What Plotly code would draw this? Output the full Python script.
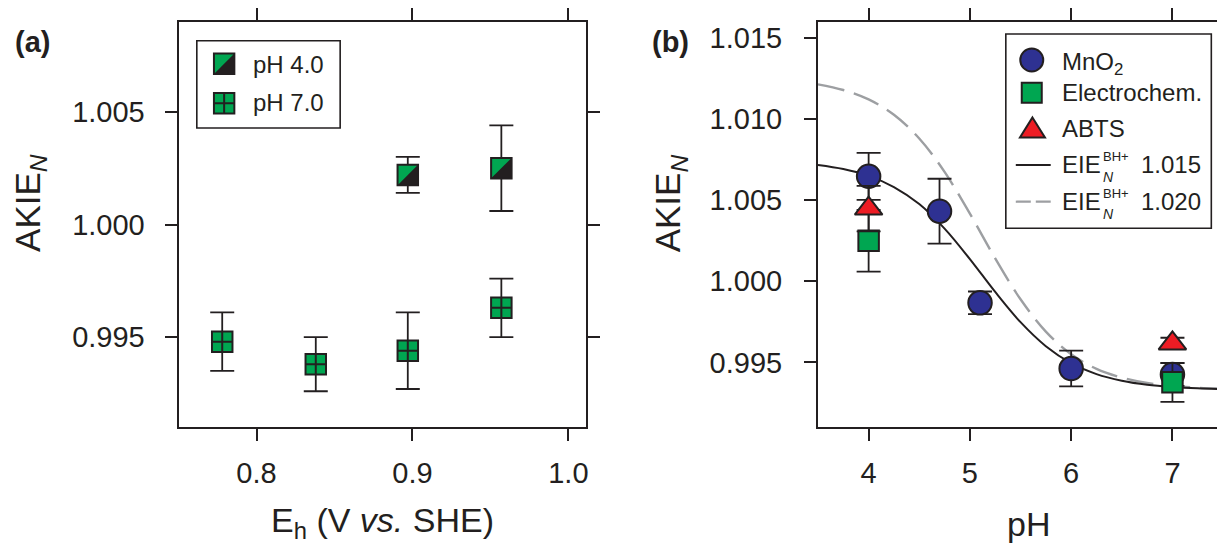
import plotly.graph_objects as go

# ---------------- data: panel (a) ----------------
eh_ph4 = [0.897, 0.957]
akie_ph4 = [1.0022, 1.0025]
err_ph4 = [0.0008, 0.0019]

eh_ph7 = [0.778, 0.838, 0.897, 0.957]
akie_ph7 = [0.9948, 0.9938, 0.9944, 0.9963]
err_ph7 = [0.0013, 0.0012, 0.0017, 0.0013]

# ---------------- data: panel (b) ----------------
ph_mno2 = [4.0, 4.7, 5.1, 6.0, 7.0]
akie_mno2 = [1.00647, 1.00432, 0.99867, 0.99462, 0.99425]
err_mno2 = [0.00145, 0.0020, 0.0007, 0.0011, 0.0007]

ph_elec = [4.0, 7.0]
akie_elec = [1.0025, 0.99377]
err_elec = [0.0019, 0.0012]

ph_abts = [4.0, 7.0]
akie_abts = [1.00448, 0.99617]
err_abts = [0.0014, 0.00035]

ph_curve = [3.5, 3.75, 4.0, 4.25, 4.5, 4.75, 5.0, 5.25, 5.5, 5.75,
            6.0, 6.25, 6.5, 6.75, 7.0, 7.25, 7.5]
eie_1015 = [1.00717, 1.00692, 1.00650, 1.00581, 1.00476, 1.00325, 1.00137,
            0.99934, 0.99748, 0.99600, 0.99495, 0.99428, 0.99387, 0.99362,
            0.99348, 0.99340, 0.99336]
eie_1020 = [1.01214, 1.01179, 1.01121, 1.01026, 1.00880, 1.00674, 1.00417,
            1.00141, 0.99889, 0.99690, 0.99550, 0.99460, 0.99406, 0.99373,
            0.99355, 0.99344, 0.99338]

xa_ticks = [0.8, 0.9, 1.0]
ya_ticks = [0.995, 1.000, 1.005]
xb_ticks = [4, 5, 6, 7]
yb_ticks = [0.995, 1.000, 1.005, 1.010, 1.015]

# ---------------- style ----------------
W, H = 1220, 545
INK = "#231f20"
GREEN = "#00a651"
NAVY = "#2e3192"
RED = "#ed1c24"
GRAY = "#9d9fa2"
FONT = "Liberation Sans, Arial, Helvetica, sans-serif"


def px(x):
    return x / W


def py(y):
    return 1 - y / H


err_style = dict(type="data", color=INK, thickness=1.8, width=12, visible=True)

fig = go.Figure()

# ---- panel (a) ----
fig.add_trace(go.Scatter(
    x=eh_ph7, y=akie_ph7, mode="markers", xaxis="x", yaxis="y",
    marker=dict(symbol="square-cross", size=20.5, color=GREEN,
                line=dict(color=INK, width=2)),
    error_y=dict(array=err_ph7, **err_style), showlegend=False))
fig.add_trace(go.Scatter(
    x=eh_ph4, y=akie_ph4, mode="markers", xaxis="x", yaxis="y",
    marker=dict(symbol="square", size=20.5, color=INK,
                line=dict(color=INK, width=2)),
    error_y=dict(array=err_ph4, **err_style), showlegend=False))

# ---- panel (b) ----
fig.add_trace(go.Scatter(
    x=ph_curve, y=eie_1020, mode="lines", xaxis="x2", yaxis="y2",
    line=dict(color=GRAY, width=2.4, dash="27px,10px", shape="spline"),
    showlegend=False))
fig.add_trace(go.Scatter(
    x=ph_curve, y=eie_1015, mode="lines", xaxis="x2", yaxis="y2",
    line=dict(color=INK, width=2, shape="spline"), showlegend=False))
fig.add_trace(go.Scatter(
    x=ph_mno2, y=akie_mno2, mode="markers", xaxis="x2", yaxis="y2",
    marker=dict(symbol="circle", size=23.5, color=NAVY,
                line=dict(color=INK, width=2)),
    error_y=dict(array=err_mno2, **err_style), showlegend=False))
fig.add_trace(go.Scatter(
    x=ph_elec, y=akie_elec, mode="markers", xaxis="x2", yaxis="y2",
    marker=dict(symbol="square", size=20.5, color=GREEN,
                line=dict(color=INK, width=2)),
    error_y=dict(array=err_elec, **err_style), showlegend=False))
fig.add_trace(go.Scatter(
    x=ph_abts, y=akie_abts, mode="markers", xaxis="x2", yaxis="y2",
    marker=dict(symbol="triangle-up", size=24, color=RED,
                line=dict(color=INK, width=2)),
    error_y=dict(array=err_abts, **err_style), showlegend=False))

shapes = []
# green upper-left halves of the pH 4.0 squares
for xv, yv in zip(eh_ph4, akie_ph4):
    shapes.append(dict(type="path", xref="x", yref="y",
                       xsizemode="pixel", ysizemode="pixel",
                       xanchor=xv, yanchor=yv,
                       path="M -9.2,9.2 L 9.2,9.2 L -9.2,-9.2 Z",
                       fillcolor=GREEN, line=dict(width=0), layer="above"))

# ---- custom legend (a) ----
shapes.append(dict(type="rect", xref="paper", yref="paper",
                   x0=px(197.3), x1=px(341), y0=py(128), y1=py(40.7),
                   line=dict(color=INK, width=1.6), fillcolor="white",
                   layer="above"))


def pix_rect(cx, cy, h, fill, lw=2):
    return dict(type="rect", xref="paper", yref="paper",
                xsizemode="pixel", ysizemode="pixel",
                xanchor=px(cx), yanchor=py(cy), x0=-h, x1=h, y0=-h, y1=h,
                fillcolor=fill, line=dict(color=INK, width=lw), layer="above")


def pix_path(cx, cy, path, fill, lw=0, color=INK):
    return dict(type="path", xref="paper", yref="paper",
                xsizemode="pixel", ysizemode="pixel",
                xanchor=px(cx), yanchor=py(cy), path=path,
                fillcolor=fill, line=dict(color=color, width=lw),
                layer="above")


shapes.append(pix_rect(224.7, 63.7, 10.2, INK))
shapes.append(pix_path(224.7, 63.7, "M -9.2,9.2 L 9.2,9.2 L -9.2,-9.2 Z", GREEN))
shapes.append(pix_rect(224.7, 103.3, 10.2, GREEN))
shapes.append(pix_path(224.7, 103.3, "M -10.2,0 L 10.2,0 M 0,-10.2 L 0,10.2",
                       "rgba(0,0,0,0)", lw=2))

# ---- custom legend (b) ----
shapes.append(dict(type="rect", xref="paper", yref="paper",
                   x0=px(1008.3), x1=px(1214.3), y0=py(228.3), y1=py(34),
                   line=dict(color=INK, width=1.6), fillcolor="white",
                   layer="above"))
shapes.append(dict(type="circle", xref="paper", yref="paper",
                   xsizemode="pixel", ysizemode="pixel",
                   xanchor=px(1034.3), yanchor=py(60),
                   x0=-11.5, x1=11.5, y0=-11.5, y1=11.5,
                   fillcolor=NAVY, line=dict(color=INK, width=2), layer="above"))
shapes.append(pix_rect(1034.3, 92.7, 10.0, GREEN))
shapes.append(pix_path(1035, 128, "M 0,10.5 L 12.5,-9.5 L -12.5,-9.5 Z", RED, lw=2))
shapes.append(dict(type="line", xref="paper", yref="paper",
                   x0=px(1018.3), x1=px(1053.3), y0=py(165), y1=py(165),
                   line=dict(color=INK, width=2), layer="above"))
shapes.append(dict(type="line", xref="paper", yref="paper",
                   x0=px(1018.3), x1=px(1053.3), y0=py(201.7), y1=py(201.7),
                   line=dict(color=GRAY, width=2.2, dash="15px,5px"),
                   layer="above"))

annotations = []


def note(text, x, y, size=24, xanchor="left", yanchor="middle", angle=0,
         bold=False):
    annotations.append(dict(
        text=text, x=px(x), y=py(y), xref="paper", yref="paper",
        xanchor=xanchor, yanchor=yanchor, showarrow=False, textangle=angle,
        font=dict(family=FONT, size=size, color=INK,
                  weight="bold" if bold else "normal")))


# legend (a) texts
note("pH 4.0", 252, 64)
note("pH 7.0", 252, 102.5)
# legend (b) texts
note("MnO<sub>2</sub>", 1063, 63)
note("Electrochem.", 1063, 93)
note("ABTS", 1063, 128.5)
for yrow, val in [(165, "1.015"), (201.7, "1.020")]:
    note("EIE", 1063, yrow)
    note("BH+", 1104, yrow - 8.5, size=13)
    note("<i>N</i>", 1103.5, yrow + 12, size=14)
    note(val, 1142, yrow)

# panel labels
note("(a)", 33, 42, size=29, xanchor="center", bold=True)
note("(b)", 672.5, 42, size=29, xanchor="center", bold=True)

# axis titles
note("AKIE<sub><i>N</i></sub>", 30, 203, size=35, xanchor="center", angle=-90)
note("AKIE<sub><i>N</i></sub>", 672, 203, size=35, xanchor="center", angle=-90)
note("E<sub>h</sub> (V <i>vs.</i> SHE)", 383, 522, size=34, xanchor="center")
note("pH", 1031.5, 524, size=34, xanchor="center")

y_dom = [1 - 427.3 / H, 1 - 21.7 / H]
axis_common = dict(showgrid=False, zeroline=False, showline=True,
                   linecolor=INK, linewidth=2, ticks="outside", ticklen=12,
                   tickwidth=2, tickcolor=INK,
                   tickfont=dict(family=FONT, size=29, color=INK))

fig.update_layout(
    width=W, height=H, autosize=False,
    margin=dict(l=0, r=0, t=0, b=0),
    paper_bgcolor="white", plot_bgcolor="white",
    showlegend=False,
    font=dict(family=FONT, color=INK),
    xaxis=dict(domain=[179 / W, 587 / W], range=[0.75, 1.011],
               tickvals=xa_ticks, tickformat=".1f", anchor="y",
               mirror="ticks", ticklabelstandoff=7, **axis_common),
    yaxis=dict(domain=y_dom, range=[0.991, 1.009], tickvals=ya_ticks,
               tickformat=".3f", anchor="x", mirror="ticks",
               ticklabelstandoff=14, **axis_common),
    xaxis2=dict(domain=[820 / W, 1.0], range=[3.5, 7.44],
                tickvals=xb_ticks, tickformat="d", anchor="y2",
                mirror="ticks", ticklabelstandoff=7, **axis_common),
    yaxis2=dict(domain=y_dom, range=[0.991, 1.016], tickvals=yb_ticks,
                tickformat=".3f", anchor="x2", mirror=False,
                ticklabelstandoff=16, **axis_common),
    shapes=shapes,
    annotations=annotations,
)

fig.write_html(
    "out.html",
    config={"displayModeBar": False},
    post_script="document.body.style.margin='0';document.body.style.padding='0';",
)
